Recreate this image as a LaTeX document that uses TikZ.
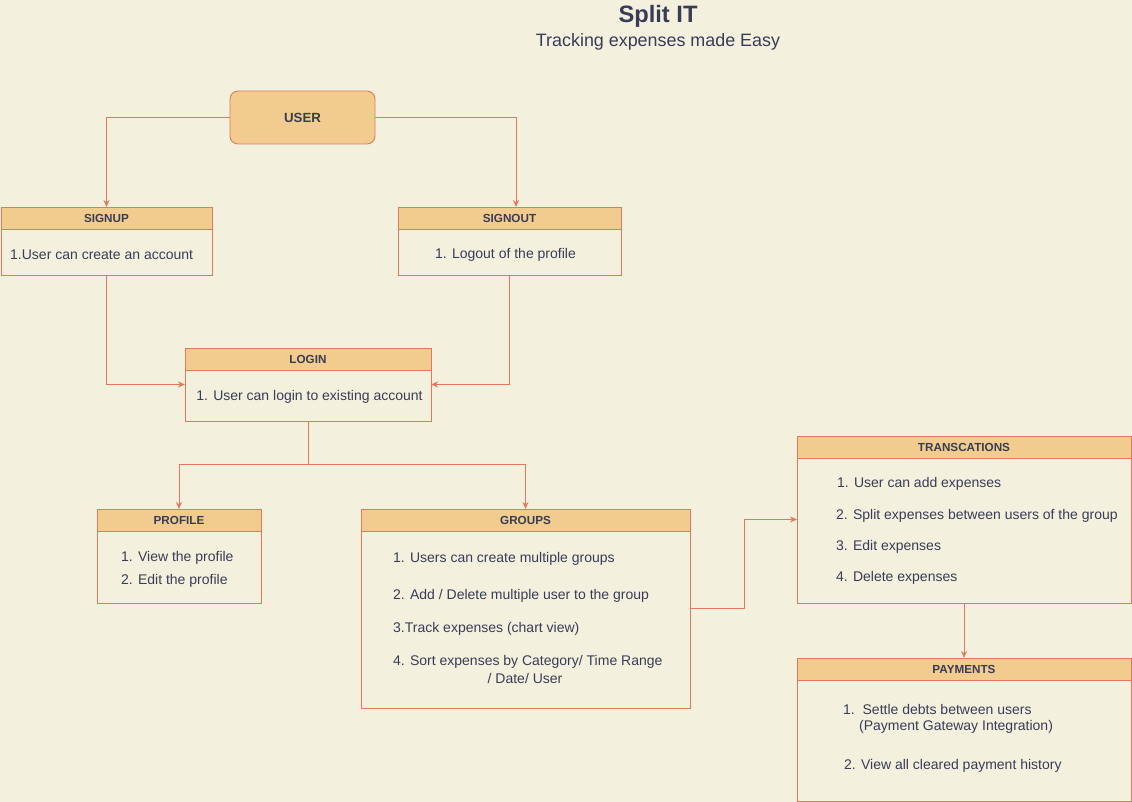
\documentclass[tikz,border=0pt]{standalone}
\usepackage{fontspec}
\setmainfont{Liberation Sans}
\usetikzlibrary{arrows.meta,calc}
\definecolor{bg}{HTML}{F4F0DE}
\definecolor{strk}{HTML}{E07A5F}
\definecolor{hdrfill}{HTML}{F2CC8F}
\definecolor{txt}{HTML}{393C56}
\tikzset{
  box/.style={draw=strk, fill=bg, line width=0.9pt, inner sep=0pt, outer sep=0pt},
  hdr/.style={draw=strk, fill=hdrfill, line width=0.9pt, inner sep=0pt, outer sep=0pt, minimum height=22pt, text=txt, font=\fontsize{11.7}{14}\selectfont\bfseries},
  body/.style={inner sep=0pt, yshift=-1.8pt, text=txt, font=\fontsize{14}{17}\selectfont},
  conn/.style={draw=strk, line width=1pt, -{Stealth[length=7pt,width=6pt]}}
}
\begin{document}
\begin{tikzpicture}[x=1pt,y=-1pt]
\useasboundingbox[fill=bg] (0,0) rectangle (1132,802);
% title
\node[text=txt, font=\fontsize{23.7}{28}\selectfont\bfseries, inner sep=0pt, yshift=-2pt] (title) at (658,14) {Split IT};
\node[text=txt, font=\fontsize{17.9}{21}\selectfont, inner sep=0pt, yshift=-2pt] (subtitle) at (658,40) {Tracking expenses made Easy};
% user
\node[draw=strk, fill=hdrfill, line width=0.9pt, rounded corners=8pt, minimum width=145pt, minimum height=53pt, inner sep=0pt, outer sep=0pt, text=txt, font=\fontsize{13.3}{16}\selectfont\bfseries] (user) at (302.5,117.5) {USER};
% signup
\node[box, minimum width=211pt, minimum height=68pt] (signup) at (106.5,241) {};
\node[hdr, minimum width=211pt] (signuph) at (106.5,218) {SIGNUP};
\node[body, anchor=west] (signupt) at (10,253) {1.User can create an account};
% signout
\node[box, minimum width=223pt, minimum height=68pt] (signout) at (509.5,241) {};
\node[hdr, minimum width=223pt] (signouth) at (509.5,218) {SIGNOUT};
\node[body] (signoutt) at (505.5,253) {1. Logout of the profile};
% login
\node[box, minimum width=246pt, minimum height=73pt] (login) at (308,384.5) {};
\node[hdr, minimum width=246pt] (loginh) at (308,359) {LOGIN};
\node[body] (logint) at (309.5,395) {1. User can login to existing account};
% profile
\node[box, minimum width=164pt, minimum height=94pt] (profile) at (179,556) {};
\node[hdr, minimum width=164pt] (profileh) at (179,520) {PROFILE};
\node[body, anchor=west] (profile1) at (121,556) {1. View the profile};
\node[body, anchor=west] (profile2) at (121,579) {2. Edit the profile};
% groups
\node[box, minimum width=329pt, minimum height=199pt] (groups) at (525.5,608.5) {};
\node[hdr, minimum width=329pt] (groupsh) at (525.5,520) {GROUPS};
\node[body, anchor=west] (groups1) at (393,557) {1. Users can create multiple groups};
\node[body, anchor=west] (groups2) at (393,594) {2. Add / Delete multiple user to the group};
\node[body, anchor=west] (groups3) at (393,627) {3.Track expenses (chart view)};
\node[body, anchor=west] (groups4) at (393,660) {4. Sort expenses by Category/ Time Range};
\node[body] (groups4b) at (525,677) {/ Date/ User};
% transactions
\node[box, minimum width=334pt, minimum height=167pt] (trans) at (964,519.5) {};
\node[hdr, minimum width=334pt] (transh) at (964,447) {TRANSCATIONS};
\node[body, anchor=west] (trans1) at (837,482) {1. User can add expenses};
\node[body, anchor=west] (trans2) at (836,514) {2. Split expenses between users of the group};
\node[body, anchor=west] (trans3) at (836,545) {3. Edit expenses};
\node[body, anchor=west] (trans4) at (836,576) {4. Delete expenses};
% payments
\node[box, minimum width=334pt, minimum height=143pt] (pay) at (964,729.5) {};
\node[hdr, minimum width=334pt] (payh) at (964,669) {PAYMENTS};
\node[body, anchor=west] (pay1) at (843,708) {1.\ \ Settle debts between users};
\node[body, anchor=west] (pay1b) at (859,725) {(Payment Gateway Integration)};
\node[body, anchor=west] (pay2) at (844,764) {2. View all cleared payment history};
% connectors
\draw[conn] (user.west) -| (signup.north);
\draw[conn] (user.east) -| ([xshift=6.5pt]signout.north);
\draw[conn] (signup.south) |- (login.west);
\draw[conn] (signout.south) |- (login.east);
\coordinate (split) at ($(login.south)+(0,43)$);
\draw[conn] (login.south) -- (split) -| (profile.north);
\draw[conn] (split) -| (groups.north);
\draw[conn] (groups.east) -- ++(54,0) |- (trans.west);
\draw[conn] (trans.south) -- (pay.north);
\end{tikzpicture}
\end{document}
